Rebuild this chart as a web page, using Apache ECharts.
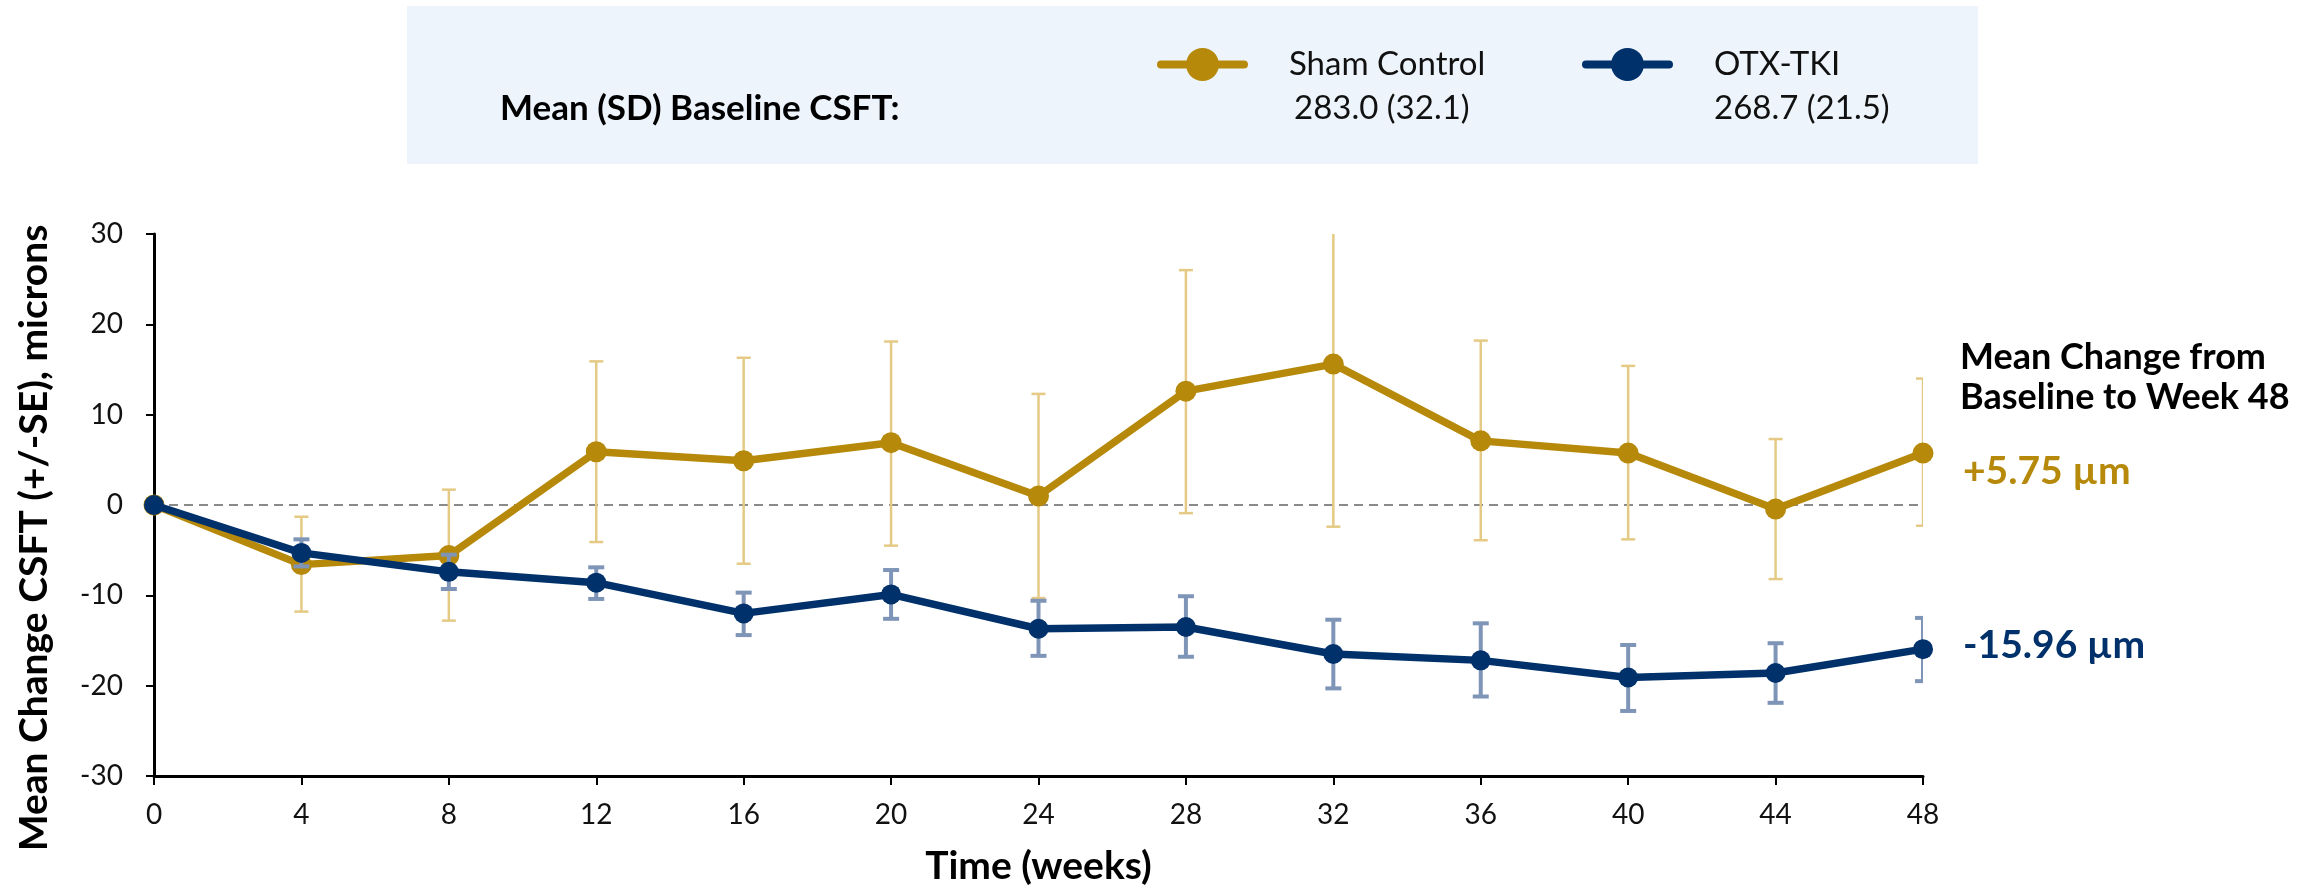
<!DOCTYPE html>
<html>
<head>
<meta charset="utf-8">
<script src="https://cdn.jsdelivr.net/npm/echarts@6/dist/echarts.min.js"></script>
<style>
  html, body { margin: 0; padding: 0; background: #fff; }
  #chart { width: 2297px; height: 891px; }
</style>
</head>
<body>
<div id="chart"></div>
<script>
// weeks on the x axis
var weeks = [0, 4, 8, 12, 16, 20, 24, 28, 32, 36, 40, 44, 48];
var yTicks = [-30, -20, -10, 0, 10, 20, 30];

// Sham Control: mean change and +/- SE bounds
var shamMean = [0, -6.6, -5.6, 5.9, 4.9, 6.9, 1.0, 12.6, 15.6, 7.1, 5.75, -0.45, 5.75];
var shamHigh = [null, -1.3, 1.7, 15.9, 16.3, 18.1, 12.3, 26.0, 33.6, 18.2, 15.4, 7.3, 14.0];
var shamLow = [null, -11.8, -12.8, -4.1, -6.5, -4.5, -10.3, -0.9, -2.4, -3.9, -3.8, -8.2, -2.3];

// OTX-TKI
var otxMean = [0, -5.3, -7.4, -8.6, -12.0, -9.9, -13.7, -13.5, -16.5, -17.2, -19.1, -18.6, -15.96];
var otxHigh = [null, -3.8, -5.5, -6.9, -9.7, -7.2, -10.6, -10.1, -12.7, -13.1, -15.5, -15.3, -12.5];
var otxLow = [null, -6.8, -9.3, -10.4, -14.4, -12.6, -16.7, -16.8, -20.3, -21.2, -22.8, -21.9, -19.5];

var seriesNames = ['Sham Control', 'OTX-TKI'];
var baselines = ['283.0 (32.1)', '268.7 (21.5)'];

var GOLD = '#B6890A';
var NAVY = '#00316B';
var GOLD_ERR = '#E4CA84';
var NAVY_ERR = '#7E95B8';
var FONT = 'Lato';

function pairs(vals) {
    return weeks.map(function (w, i) { return [w, vals[i]]; });
}
function errData(low, high) {
    var out = [];
    weeks.forEach(function (w, i) {
        if (low[i] != null) out.push([w, low[i], high[i]]);
    });
    return out;
}
function errRender(color, width, capHalf) {
    return function (params, api) {
        var top = api.coord([api.value(0), api.value(2)]);
        var bot = api.coord([api.value(0), api.value(1)]);
        var st = { stroke: color, lineWidth: width };
        return {
            type: 'group',
            children: [
                { type: 'line', shape: { x1: top[0], y1: top[1], x2: bot[0], y2: bot[1] }, style: st },
                { type: 'line', shape: { x1: top[0] - capHalf, y1: top[1], x2: top[0] + capHalf, y2: top[1] }, style: st },
                { type: 'line', shape: { x1: bot[0] - capHalf, y1: bot[1], x2: bot[0] + capHalf, y2: bot[1] }, style: st }
            ]
        };
    };
}
function endLabel(color, offset) {
    return {
        show: true,
        offset: offset,
        fontFamily: FONT,
        fontWeight: 'bold',
        fontSize: 39,
        color: color,
        formatter: function (p) {
            var v = p.value[1];
            return (v > 0 ? '+' : '') + v.toFixed(2) + ' µm';
        }
    };
}

var legendIcon = 'path://M4,12.5 L87,12.5 A4,4 0 0 1 87,20.5 L4,20.5 A4,4 0 0 1 4,12.5 Z M29,16.5 A16.5,16.5 0 0 1 62,16.5 A16.5,16.5 0 0 1 29,16.5 Z';
function legendFor(name, left) {
    return {
        data: [name],
        left: left,
        top: 48,
        padding: 0,
        icon: legendIcon,
        itemWidth: 91,
        itemHeight: 33,
        selectedMode: false,
        textStyle: { fontFamily: FONT, fontSize: 33, color: '#111', padding: [0, 0, 0, 36] }
    };
}

var chart = echarts.init(document.getElementById('chart'));
chart.setOption({
    backgroundColor: '#fff',
    animation: false,
    grid: { left: 154, right: 374, top: 234, bottom: 107 },
    legend: [legendFor(seriesNames[0], 1157), legendFor(seriesNames[1], 1582)],
    graphic: [
        { type: 'rect', left: 407, top: 6, shape: { width: 1571, height: 158 }, style: { fill: '#EDF4FB' }, z: -1 },
        { type: 'text', left: 500, top: 91, style: { text: 'Mean (SD) Baseline CSFT:', fontFamily: FONT, fontWeight: 'bold', fontSize: 35, fill: '#000' } },
        { type: 'text', left: 1294, top: 92, style: { text: baselines[0], fontFamily: FONT, fontSize: 33, fill: '#111' } },
        { type: 'text', left: 1714, top: 92, style: { text: baselines[1], fontFamily: FONT, fontSize: 33, fill: '#111' } },
        { type: 'text', left: 1960, top: 337, style: { text: 'Mean Change from\nBaseline to Week 48', fontFamily: FONT, fontWeight: 'bold', fontSize: 36, lineHeight: 40, fill: '#000' } }
    ],
    xAxis: {
        type: 'value',
        min: 0,
        max: 48,
        interval: 4,
        name: 'Time (weeks)',
        nameLocation: 'middle',
        nameGap: 71,
        nameTextStyle: { fontFamily: FONT, fontWeight: 'bold', fontSize: 39, color: '#000' },
        axisLine: { onZero: false, lineStyle: { color: '#000', width: 3 } },
        axisTick: { show: true, length: 9, lineStyle: { color: '#000', width: 2 } },
        axisLabel: { margin: 25, fontFamily: FONT, fontSize: 28, color: '#111' },
        splitLine: { show: false }
    },
    yAxis: {
        type: 'value',
        min: yTicks[0],
        max: yTicks[yTicks.length - 1],
        interval: 10,
        name: 'Mean Change CSFT (+/-SE), microns',
        nameLocation: 'middle',
        nameGap: 100,
        nameTextStyle: { fontFamily: FONT, fontWeight: 'bold', fontSize: 39, color: '#000', padding: [0, 66, 0, 0] },
        axisLine: { show: true, onZero: false, lineStyle: { color: '#000', width: 3 } },
        axisTick: { show: true, length: 8, lineStyle: { color: '#000', width: 2 } },
        axisLabel: { margin: 31, fontFamily: FONT, fontSize: 28, color: '#111' },
        splitLine: { show: false }
    },
    series: [
        {
            name: 'Sham SE',
            type: 'custom',
            clip: true,
            silent: true,
            z: 2,
            data: errData(shamLow, shamHigh),
            renderItem: errRender(GOLD_ERR, 2.5, 7)
        },
        {
            name: seriesNames[0],
            type: 'line',
            z: 3,
            data: pairs(shamMean),
            symbol: 'circle',
            symbolSize: 21,
            color: GOLD,
            lineStyle: { color: GOLD, width: 7.5 },
            itemStyle: { color: GOLD },
            endLabel: endLabel(GOLD, [32, 18]),
            markLine: {
                silent: true,
                symbol: 'none',
                label: { show: false },
                lineStyle: { color: '#8a8a8a', type: [9, 6], width: 2 },
                data: [{ yAxis: 0 }],
                z: 1
            }
        },
        {
            name: 'OTX SE',
            type: 'custom',
            clip: true,
            silent: true,
            z: 4,
            data: errData(otxLow, otxHigh),
            renderItem: errRender(NAVY_ERR, 4, 8)
        },
        {
            name: seriesNames[1],
            type: 'line',
            z: 5,
            data: pairs(otxMean),
            symbol: 'circle',
            symbolSize: 20,
            color: NAVY,
            lineStyle: { color: NAVY, width: 7.5 },
            itemStyle: { color: NAVY },
            endLabel: endLabel(NAVY, [32, -4])
        }
    ]
});
</script>
</body>
</html>
